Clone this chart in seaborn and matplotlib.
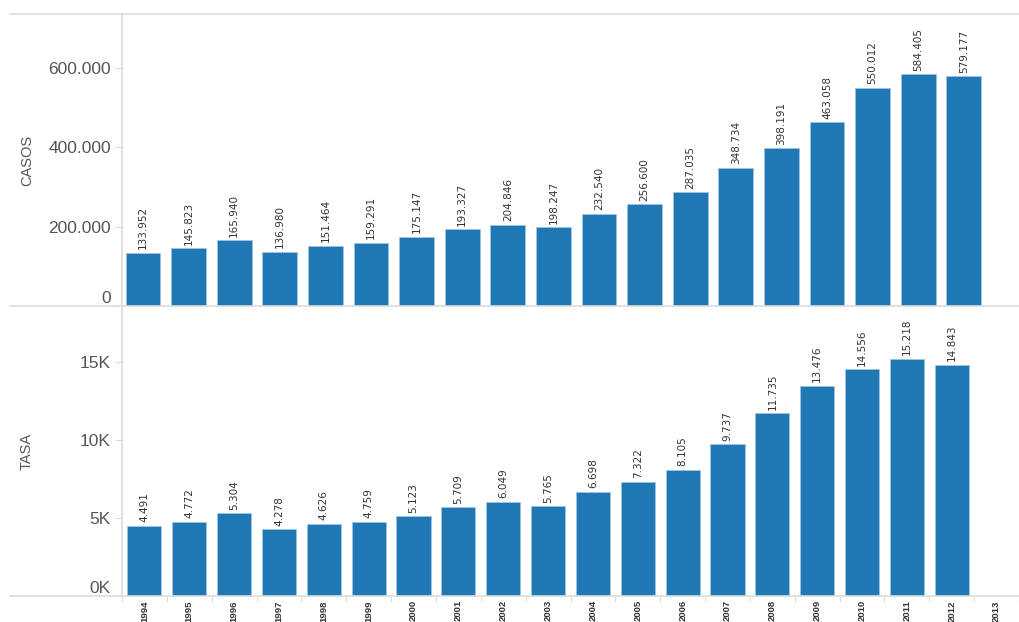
import matplotlib
matplotlib.use("Agg")
import matplotlib.pyplot as plt
from matplotlib.lines import Line2D
import seaborn as sns
import pandas as pd

years = [str(y) for y in range(1994, 2014)]
data_years = [str(y) for y in range(1994, 2013)]
casos = [133952, 145823, 165940, 136980, 151464, 159291, 175147, 193327, 204846,
         198247, 232540, 256600, 287035, 348734, 398191, 463058, 550012, 584405, 579177]
tasa = [4491, 4772, 5304, 4278, 4626, 4759, 5123, 5709, 6049,
        5765, 6698, 7322, 8105, 9737, 11735, 13476, 14556, 15218, 14843]

casos_ticks = [0, 200000, 400000, 600000]
casos_ticklabels = ["0", "200.000", "400.000", "600.000"]
tasa_ticks = [0, 5000, 10000, 15000]
tasa_ticklabels = ["0K", "5K", "10K", "15K"]

sns.set_theme(style="white")
plt.rcParams["font.family"] = ["DejaVu Sans"]

BLUE = "#1f77b4"
GRID = "#dcdcdc"
TEXT = "#555555"
SANS = ["Liberation Sans", "DejaVu Sans"]

W, H = 1019, 622
fig = plt.figure(figsize=(W / 100, H / 100), dpi=100)

def frac_x(px):
    return px / W

def frac_y(py):
    return 1 - py / H

left = frac_x(122)
ax1 = fig.add_axes([left, frac_y(306), 1 - left, frac_y(14) - frac_y(306)])
ax2 = fig.add_axes([left, frac_y(596), 1 - left, frac_y(306) - frac_y(596)])

df = pd.DataFrame({"year": data_years, "casos": casos, "tasa": tasa})

def fmt(v):
    return f"{v:,}".replace(",", ".")

panels = [
    (ax1, "casos", "CASOS", (0, 736000), casos_ticks, casos_ticklabels),
    (ax2, "tasa", "TASA", (0, 18600), tasa_ticks, tasa_ticklabels),
]

for ax, col, name, ylim, ticks, ticklabels in panels:
    sns.barplot(data=df, x="year", y=col, order=years, color=BLUE, width=0.76,
                saturation=1, edgecolor="#9ec5e3", linewidth=0.6, ax=ax)
    ax.set_xlim(-0.46, 19.21)
    ax.set_ylim(*ylim)
    ax.set_yticks(ticks)
    ax.set_yticklabels(ticklabels, color=TEXT, fontsize=12.5, family=SANS)
    # the zero label sits just above the baseline
    ax.get_yticklabels()[0].set_verticalalignment("bottom")
    ax.set_ylabel(name, color=TEXT, fontsize=10.5, family=SANS)
    ax.yaxis.set_label_coords((34 - 122) / (W - 122), 0.5)
    ax.set_xlabel("")
    for s in ["top", "right", "bottom"]:
        ax.spines[s].set_visible(False)
    ax.spines["left"].set_color(GRID)
    ax.spines["left"].set_linewidth(1.2)
    ax.tick_params(axis="y", length=5, width=0.8, color=GRID, pad=3, left=True)
    for i, v in enumerate(df[col]):
        ax.text(i, v + ylim[1] * 0.012, fmt(v), rotation=90, ha="center", va="bottom",
                fontsize=7.5, color="#333333")

ax1.set_xticks(range(len(years)))
ax1.tick_params(axis="x", bottom=False, labelbottom=False)

ax2.set_xticks(range(len(years)))
ax2.set_xticklabels(years, rotation=90, fontsize=6.8, fontweight="bold",
                    family=SANS, color="#333333", va="top")
ax2.tick_params(axis="x", length=0, pad=3)
ax2.set_xticks([i + 0.5 for i in range(-1, len(years))], minor=True)
ax2.tick_params(axis="x", which="minor", length=4, width=0.8, color=GRID, bottom=True)

# row dividers spanning the full width
for py in (14, 306, 596):
    fig.add_artist(Line2D([frac_x(10), 1], [frac_y(py), frac_y(py)],
                          color=GRID, linewidth=1.2, transform=fig.transFigure))

fig.savefig("out.png", dpi=100)
